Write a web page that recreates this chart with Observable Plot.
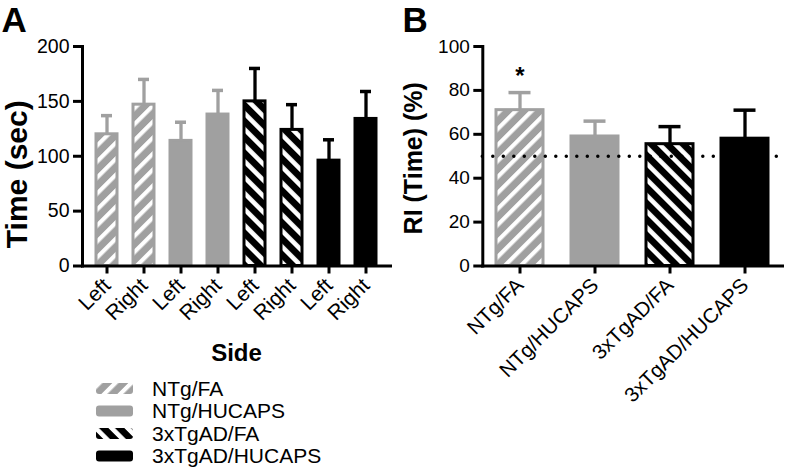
<!DOCTYPE html>
<html><head><meta charset="utf-8">
<script src="https://cdn.jsdelivr.net/npm/d3@7"></script>
<script src="https://cdn.jsdelivr.net/npm/@observablehq/plot@0.6"></script>
<style>
body{margin:0;background:#fff;font-family:"Liberation Sans",Arial,sans-serif;}
#root{position:relative;width:787px;height:472px;overflow:hidden;background:#fff;}
#root > svg, #root > figure{position:absolute;top:0;margin:0;}
#root text{font-family:"Liberation Sans",Arial,sans-serif;}
</style></head><body>
<div id="root"></div>
<script>
// ---- data ----
const groups = ["NTg/FA", "NTg/HUCAPS", "3xTgAD/FA", "3xTgAD/HUCAPS"];
const sides = ["Left", "Right"];
const timeMean = [120, 147, 114, 138, 150, 124, 96, 134];
const timeErr = [17, 23, 17, 22, 30, 23, 19, 25];
const timeTicks = [0, 50, 100, 150, 200];
const riMean = [71, 59, 55.5, 58];
const riErr = [8, 7, 8, 13];
const riTicks = [0, 20, 40, 60, 80, 100];
const chanceLevel = [50];
const sigGroups = ["NTg/FA"];
const sigY = [86.5];
const sigText = ["*"];

// ---- styles ----
const GRAY = "#a0a0a0";
const FONT = "Liberation Sans, Arial, sans-serif";
const fillOf = {"NTg/FA": "url(#hatchGray)", "NTg/HUCAPS": GRAY, "3xTgAD/FA": "url(#hatchBlack)", "3xTgAD/HUCAPS": "#000"};
const strokeOf = {"NTg/FA": GRAY, "NTg/HUCAPS": GRAY, "3xTgAD/FA": "#000", "3xTgAD/HUCAPS": "#000"};

const root = document.getElementById("root");

// overlay svg with pattern defs, panel letters, legend
const over = d3.create("svg").attr("width", 787).attr("height", 472)
  .style("left", "0px").style("pointer-events", "none").style("font-family", FONT);
const defs = over.append("defs");
function hatch(id, bg, angle, w) {
  const p = defs.append("pattern").attr("id", id).attr("patternUnits", "userSpaceOnUse")
    .attr("width", 11.3).attr("height", 11.3).attr("patternTransform", `rotate(${angle})`);
  p.append("rect").attr("width", 11.3).attr("height", 11.3).attr("fill", bg);
  p.append("rect").attr("x", 0).attr("width", w).attr("height", 11.3).attr("fill", "#fff");
}
hatch("hatchGray", GRAY, 45, 4.2);
hatch("hatchBlack", "#000", -45, 4.6);

// ---- panel A ----
const aData = [];
groups.forEach((g, gi) => sides.forEach((s, si) => {
  const i = gi * 2 + si;
  aData.push({key: g + "|" + s, group: g, side: s, mean: timeMean[i], err: timeErr[i]});
}));

const plotA = Plot.plot({
  width: 400, height: 380,
  marginLeft: 82, marginRight: 10, marginTop: 46, marginBottom: 114.5,
  style: {fontFamily: FONT, fontSize: "19.5px", color: "#000", background: "transparent", overflow: "visible"},
  x: {domain: aData.map(d => d.key), paddingInner: 0.42, paddingOuter: 0.263, axis: null},
  y: {domain: [0, 200], axis: null},
  color: {type: "identity"},
  marks: [
    Plot.ruleX(aData, {x: "key", y1: "mean", y2: d => d.mean + d.err, stroke: d => strokeOf[d.group], strokeWidth: 3.3}),
    Plot.tickY(aData, {x: "key", y: d => d.mean + d.err, stroke: d => strokeOf[d.group], strokeWidth: 3.5, insetLeft: 5, insetRight: 5}),
    Plot.barY(aData, {x: "key", y: "mean", fill: d => fillOf[d.group], stroke: d => strokeOf[d.group], strokeWidth: 3}),
    Plot.axisY({ticks: timeTicks, tickSize: 9, tickPadding: 4, strokeWidth: 3, label: null, fontSize: 19.5, fontFamily: FONT}),
    Plot.axisX({tickRotate: -45, tickSize: 8, tickPadding: 8, strokeWidth: 3, label: null, fontSize: 21, fontFamily: FONT, tickFormat: k => k.split("|")[1]}),
    Plot.frame({anchor: "left", strokeWidth: 3}),
    Plot.frame({anchor: "bottom", strokeWidth: 3}),
    Plot.text(["Time (sec)"], {text: d => d, frameAnchor: "left", textAnchor: "middle", lineAnchor: "middle", rotate: -90, dx: -65, dy: 18, fontSize: 30, fontWeight: "bold", fontFamily: FONT}),
    Plot.text(["Side"], {text: d => d, frameAnchor: "bottom", textAnchor: "middle", lineAnchor: "middle", dy: 87, fontSize: 24, fontWeight: "bold", fontFamily: FONT})
  ]
});
plotA.style.left = "0px";
root.appendChild(plotA);

// ---- panel B ----
const bData = groups.map((g, i) => ({group: g, mean: riMean[i], err: riErr[i]}));
const sigData = sigGroups.map((g, i) => ({group: g, y: sigY[i], label: sigText[i]}));

const plotB = Plot.plot({
  width: 387, height: 472,
  marginLeft: 82.3, marginRight: 5, marginTop: 46, marginBottom: 206.5,
  style: {fontFamily: FONT, fontSize: "19px", color: "#000", background: "transparent", overflow: "visible"},
  x: {domain: groups, paddingInner: 0.375, paddingOuter: 0.184, axis: null},
  y: {domain: [0, 100], axis: null},
  color: {type: "identity"},
  marks: [
    Plot.ruleX(bData, {x: "group", y1: "mean", y2: d => d.mean + d.err, stroke: d => strokeOf[d.group], strokeWidth: 3.3}),
    Plot.tickY(bData, {x: "group", y: d => d.mean + d.err, stroke: d => strokeOf[d.group], strokeWidth: 3.5, insetLeft: 12.5, insetRight: 12.5}),
    Plot.barY(bData, {x: "group", y: "mean", fill: d => fillOf[d.group], stroke: d => strokeOf[d.group], strokeWidth: 3}),
    Plot.ruleY(chanceLevel, {stroke: "#000", strokeWidth: 3.5, strokeDasharray: "0 10.5", strokeLinecap: "round"}),
    Plot.text(sigData, {x: "group", y: "y", text: "label", fontSize: 24, fontWeight: "bold", fontFamily: FONT}),
    Plot.axisY({ticks: riTicks, tickSize: 9, tickPadding: 4, strokeWidth: 3, label: null, fontSize: 19, fontFamily: FONT}),
    Plot.axisX({tickRotate: -45, tickSize: 8, tickPadding: 8, strokeWidth: 3, label: null, fontSize: 20.5, fontFamily: FONT}),
    Plot.frame({anchor: "left", strokeWidth: 3}),
    Plot.frame({anchor: "bottom", strokeWidth: 3}),
    Plot.text(["RI (Time) (%)"], {text: d => d, frameAnchor: "left", textAnchor: "middle", lineAnchor: "middle", rotate: -90, dx: -69, dy: 2, fontSize: 25, fontWeight: "bold", fontFamily: FONT})
  ]
});
plotB.style.left = "400px";
root.appendChild(plotB);

// ---- letters & legend ----
over.append("text").attr("x", 1.5).attr("y", 31.8).attr("font-size", 35).attr("font-weight", "bold").text("A");
over.append("text").attr("x", 402.5).attr("y", 31.8).attr("font-size", 35).attr("font-weight", "bold").text("B");
const rowY = [388.5, 411, 433.5, 456];
groups.forEach((g, i) => {
  over.append("rect").attr("x", 96).attr("y", rowY[i] - 5.5).attr("width", 37).attr("height", 11).attr("rx", 3)
    .attr("fill", fillOf[g]);
  over.append("text").attr("x", 152).attr("y", rowY[i]).attr("dy", "0.35em").attr("font-size", 21).text(g);
});
root.appendChild(over.node());
</script>
</body></html>
